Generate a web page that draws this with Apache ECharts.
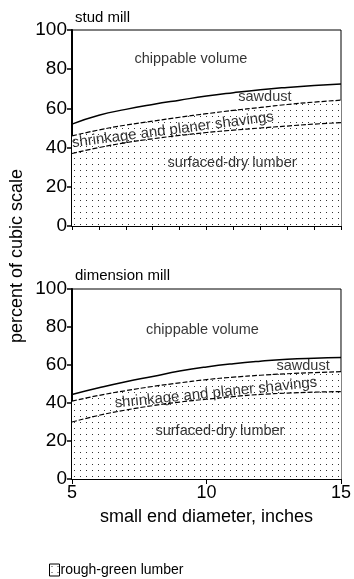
<!DOCTYPE html>
<html>
<head>
<meta charset="utf-8">
<script src="https://cdn.jsdelivr.net/npm/echarts@6/dist/echarts.min.js"></script>
<style>
  html, body { margin: 0; padding: 0; background: #fff; }
  #chart { width: 354px; height: 579px; }
</style>
</head>
<body>
<div id="chart"></div>
<script>
// small end diameter, inches
var diameters = [5, 6, 7, 8, 9, 10, 11, 12, 13, 14, 15]

// stud mill, cumulative percent of cubic scale
var studChip = [52, 56.5, 59.5, 62, 64.2, 66.3, 68, 69.5, 70.7, 71.7, 72.5]      // top of sawdust
var studSawdust = [46, 49, 51.5, 53.5, 55.5, 57.3, 59, 60.5, 62, 63.2, 64.2]     // top of shrinkage
var studShrink = [37, 40, 42.5, 44.5, 46.2, 47.7, 48.9, 50, 51, 52, 52.7]        // top of surfaced-dry

// dimension mill
var dimChip = [44.5, 48, 51.2, 54, 56.8, 59, 60.7, 62, 63, 63.6, 64]
var dimSawdust = [41, 44, 46.5, 48.7, 50.6, 52.3, 53.6, 54.6, 55.4, 56, 56.5]
var dimShrink = [30, 33.5, 36.3, 38.6, 40.5, 42, 43.4, 44.5, 45.2, 45.7, 46]

// region labels: [x, y, angle]
var regionNames = ['chippable volume', 'sawdust', 'shrinkage and planer shavings', 'surfaced-dry lumber']
var studLabelPos = [[9.42, 85.4, 0], [12.17, 65.8, 0], [8.75, 49, 7.4], [10.95, 32, 0]]
var dimLabelPos = [[9.85, 78.4, 0], [13.59, 59.5, 0], [10.35, 45.3, 5.9], [10.5, 25.3, 0]]

var yTicks = [0, 20, 40, 60, 80, 100]
var xTicks = [5, 10, 15]

var font = 'Liberation Sans, Arial, Helvetica, sans-serif'

function pairs(ys) {
  return diameters.map(function (d, i) { return [d, ys[i]] })
}

// stipple pattern for the rough-green lumber area
var dots = document.createElement('canvas')
dots.width = 6
dots.height = 6
var ctx = dots.getContext('2d')
ctx.fillStyle = '#fff'
ctx.fillRect(0, 0, 6, 6)
ctx.fillStyle = '#333'
ctx.fillRect(2, 2, 1, 1)
var dotFill = { image: dots, repeat: 'repeat' }

function yAxis(grid) {
  return {
    type: 'value',
    gridIndex: grid,
    min: yTicks[0],
    max: yTicks[yTicks.length - 1],
    interval: 20,
    axisLine: { show: true, lineStyle: { color: '#000', width: 2 } },
    axisTick: { show: true, length: 5, lineStyle: { color: '#000', width: 1.5 } },
    axisLabel: { color: '#000', fontSize: 19, fontFamily: font, margin: 5 },
    splitLine: { show: false }
  }
}

function labelSeries(grid, pos) {
  return {
    name: 'labels' + grid,
    type: 'scatter',
    xAxisIndex: grid,
    yAxisIndex: grid,
    symbolSize: 1,
    itemStyle: { color: 'rgba(0,0,0,0)' },
    silent: true,
    z: 5,
    data: pos.map(function (p, i) {
      return {
        value: [p[0], p[1]],
        label: {
          show: true,
          position: 'inside',
          formatter: regionNames[i],
          rotate: p[2],
          color: '#000',
          fontSize: i === 2 ? 15 : 14.5,
          fontFamily: font
        }
      }
    })
  }
}

function millSeries(grid, chip, sawdust, shrink) {
  return [{
    name: 'rough-green lumber',
    type: 'line',
    xAxisIndex: grid,
    yAxisIndex: grid,
    smooth: true,
    symbol: 'none',
    data: pairs(sawdust),
    lineStyle: { color: '#000', width: 1.2, type: [5, 2] },
    itemStyle: { color: dotFill, borderColor: '#000' },
    areaStyle: { color: dotFill, opacity: 1, origin: 'start' },
    z: 2
  }, {
    name: 'surfaced-dry',
    type: 'line',
    xAxisIndex: grid,
    yAxisIndex: grid,
    smooth: true,
    symbol: 'none',
    data: pairs(shrink),
    lineStyle: { color: '#000', width: 1.2, type: [5, 2] },
    z: 3
  }, {
    name: 'chippable',
    type: 'line',
    xAxisIndex: grid,
    yAxisIndex: grid,
    smooth: true,
    symbol: 'none',
    data: pairs(chip),
    lineStyle: { color: '#000', width: 1.5 },
    z: 3
  }]
}

var chart = echarts.init(document.getElementById('chart'))

chart.setOption({
  animation: false,
  backgroundColor: '#fff',
  textStyle: { fontFamily: font },
  title: [
    { text: 'stud mill', left: 70, top: 5, textStyle: { fontSize: 15, fontWeight: 'normal', color: '#000', fontFamily: font } },
    { text: 'dimension mill', left: 70, top: 263, textStyle: { fontSize: 15, fontWeight: 'normal', color: '#000', fontFamily: font } }
  ],
  legend: {
    left: 44,
    top: 558,
    data: ['rough-green lumber'],
    icon: 'rect',
    itemWidth: 10,
    itemHeight: 12,
    itemGap: 0,
    textStyle: { fontSize: 14, color: '#000', fontFamily: font, padding: [0, 0, 0, -4] },
    itemStyle: { color: dotFill, borderColor: '#000', borderWidth: 1 },
    selectedMode: false
  },
  grid: [
    { left: 72, top: 30, width: 269, height: 196, show: true, borderColor: '#000', borderWidth: 1 },
    { left: 72, top: 289, width: 269, height: 190, show: true, borderColor: '#000', borderWidth: 1 }
  ],
  xAxis: [{
    type: 'value',
    gridIndex: 0,
    min: 5,
    max: 15,
    interval: 1,
    axisLine: { show: true, lineStyle: { color: '#000' } },
    axisTick: { show: true, length: 4, lineStyle: { color: '#000' } },
    axisLabel: { show: false },
    splitLine: { show: false }
  }, {
    type: 'value',
    gridIndex: 1,
    min: xTicks[0],
    max: xTicks[xTicks.length - 1],
    interval: 5,
    name: 'small end diameter, inches',
    nameLocation: 'middle',
    nameGap: 29,
    nameTextStyle: { fontSize: 18, color: '#000', fontFamily: font },
    axisLine: { show: true, lineStyle: { color: '#000' } },
    axisTick: { show: true, length: 5, lineStyle: { color: '#000' } },
    axisLabel: { color: '#000', fontSize: 18, fontFamily: font, margin: 5 },
    splitLine: { show: false }
  }],
  yAxis: [yAxis(0), yAxis(1)],
  graphic: [{
    type: 'text',
    x: 17,
    y: 256,
    rotation: Math.PI / 2,
    style: {
      text: 'percent of cubic scale',
      fontSize: 18,
      fontFamily: font,
      fill: '#000',
      align: 'center',
      verticalAlign: 'middle'
    }
  }],
  series: [].concat(
    millSeries(0, studChip, studSawdust, studShrink),
    millSeries(1, dimChip, dimSawdust, dimShrink),
    [labelSeries(0, studLabelPos), labelSeries(1, dimLabelPos)]
  )
})
</script>
</body>
</html>
